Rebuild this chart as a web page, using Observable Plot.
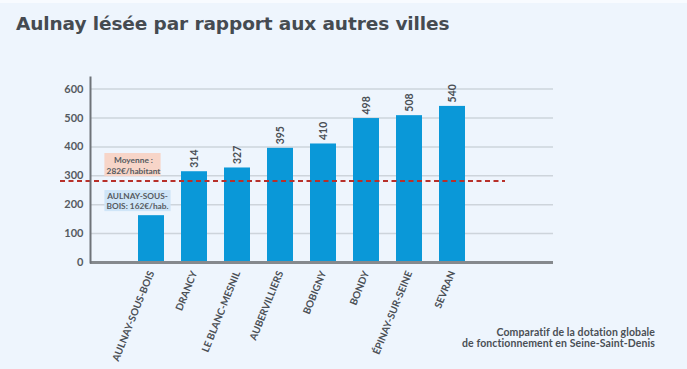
<!DOCTYPE html>
<html>
<head>
<meta charset="utf-8">
<script src="https://cdn.jsdelivr.net/npm/d3@7"></script>
<script src="https://cdn.jsdelivr.net/npm/@observablehq/plot@0.6"></script>
<style>
  html, body { margin: 0; padding: 0; }
  body { width: 687px; height: 369px; background: #eef5fd; position: relative; overflow: hidden; font-family: Lato, "Open Sans", sans-serif; }
  #topstrip { position: absolute; left: 0; top: 0; width: 687px; height: 3px; background: #f8fbff; }
  #title { height: 60px; box-sizing: border-box; padding: 13px 0 0 16px; font-family: "DejaVu Sans", sans-serif; font-size: 18.5px; font-weight: 700; color: #454b51; letter-spacing: -0.1px; }
  #caption { position: absolute; right: 32px; top: 327px; text-align: right; font-size: 10.5px; line-height: 11px; font-weight: 700; color: #4a4f55; letter-spacing: 0.1px; }
</style>
</head>
<body>
<div id="topstrip"></div>
<div id="title">Aulnay lésée par rapport aux autres villes</div>
<div id="chart"></div>
<div id="caption">Comparatif de la dotation globale<br>de fonctionnement en Seine-Saint-Denis</div>
<script>
const cities = ["AULNAY-SOUS-BOIS", "DRANCY", "LE BLANC-MESNIL", "AUBERVILLIERS", "BOBIGNY", "BONDY", "ÉPINAY-SUR-SEINE", "SEVRAN"];
const values = [162, 314, 327, 395, 410, 498, 508, 540];
const labels = ["", "314", "327", "395", "410", "498", "508", "540"];
const yTicks = [0, 100, 200, 300, 400, 500, 600];
const average = 282;
const averageNote = "Moyenne :\n282€/habitant";
const aulnayNote = "AULNAY-SOUS-\nBOIS: 162€/hab.";

const data = cities.map((c, i) => ({city: c, value: values[i], label: labels[i]}));

const chart = Plot.plot({
  width: 687,
  height: 309,
  marginTop: 17,
  marginBottom: 107,
  marginLeft: 90,
  marginRight: 134,
  style: {background: "transparent", fontFamily: "Lato, 'Open Sans', sans-serif", color: "#4a4f55", overflow: "visible"},
  x: {domain: cities, range: [117.5, 486.1], padding: 0.39},
  y: {domain: [0, 640]},
  marks: [
    Plot.ruleY(yTicks.filter(d => d > 0), {stroke: "#cdd4db", strokeWidth: 1.5}),
    // annotation boxes
    Plot.barY([{city: cities[0], y1: 297, y2: 377}], {x: "city", y1: "y1", y2: "y2", fill: "#f7d5c8", insetLeft: -33.6, insetRight: 3.4}),
    Plot.barY([{city: cities[0], y1: 176, y2: 249}], {x: "city", y1: "y1", y2: "y2", fill: "#cfe5f8", insetLeft: -33.6, insetRight: -6.6}),
    Plot.text([{city: cities[0], y: 337, t: averageNote}], {x: "city", y: "y", text: "t", dx: -18, fontSize: 8.3, fontWeight: 700, fill: "#555a60", lineHeight: 1.3}),
    Plot.text([{city: cities[0], y: 212, t: aulnayNote}], {x: "city", y: "y", text: "t", dx: -14, fontSize: 8.3, fontWeight: 700, fill: "#555a60", lineHeight: 1.2}),
    Plot.barY(data, {x: "city", y: "value", fill: "#0a98d8"}),
    Plot.ruleY([average], {stroke: "#b8302a", strokeWidth: 2, strokeDasharray: "5,3.5", insetLeft: -30, insetRight: 48}),
    Plot.text(data, {x: "city", y: "value", text: "label", rotate: -90, textAnchor: "start", lineAnchor: "middle", dy: -4, fontSize: 10.5, fontWeight: 700, fill: "#4a4f55"}),
    Plot.ruleY([0], {stroke: "#85898d", strokeWidth: 3}),
    Plot.frame({anchor: "left", stroke: "#6f7378", strokeWidth: 2}),
    Plot.axisY({ticks: yTicks, tickSize: 0, tickPadding: 7, fontSize: 11, fontWeight: 700, fill: "#555a60", label: null}),
    Plot.axisX({tickRotate: -68, tickSize: 0, tickPadding: 9, fontSize: 10, fontWeight: 700, fill: "#4a4f55", label: null})
  ]
});
document.getElementById("chart").appendChild(chart);
</script>
</body>
</html>
